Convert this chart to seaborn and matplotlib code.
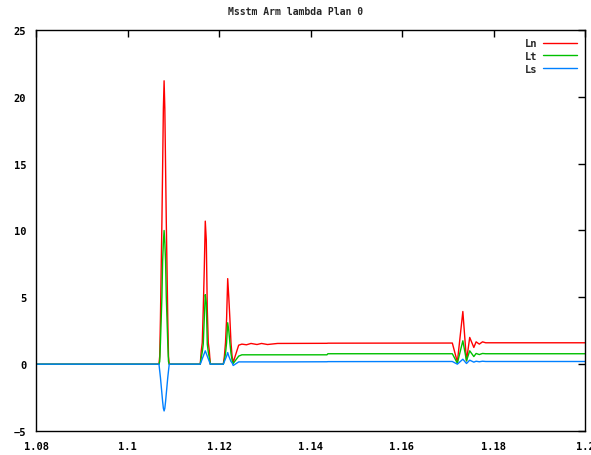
import matplotlib
matplotlib.use("Agg")
import matplotlib.pyplot as plt
import seaborn as sns

# sample positions (shared by the three series)
x_vals = [
    1.0800,
    # first spike
    1.10688, 1.10704, 1.10720, 1.10736, 1.10752, 1.10768, 1.10784, 1.10800,
    1.10816, 1.10832, 1.10848, 1.10864, 1.10880, 1.10896, 1.10912,
    # second spike
    1.11590, 1.11612, 1.11634, 1.11656, 1.11678, 1.11700, 1.11722, 1.11744,
    1.11766, 1.11788, 1.11810,
    # third spike
    1.12094, 1.12118, 1.12142, 1.12166, 1.12190, 1.12214, 1.12238, 1.12262,
    1.12286,
    # settling
    1.1231, 1.1243, 1.1250, 1.1260, 1.1270, 1.1283, 1.1293, 1.1306, 1.1328,
    1.1436, 1.1438, 1.1710,
    # fourth spike
    1.1721, 1.1733, 1.1741, 1.1748, 1.1757, 1.1762, 1.1769, 1.1776, 1.1783,
    1.2000,
]

ln_vals = [
    0.0,
    0.0, 0.6, 3.4, 7.1, 10.6, 14.8, 19.1, 21.2, 19.1, 14.8, 10.6, 7.1, 3.4, 0.6, 0.0,
    0.0, 1.0, 1.6, 4.1, 7.1, 10.7, 9.3, 4.1, 1.6, 1.0, 0.0,
    0.0, 0.6, 1.6, 3.4, 6.4, 5.0, 3.4, 1.6, 0.6,
    0.13, 1.42, 1.50, 1.45, 1.55, 1.47, 1.55, 1.47, 1.55, 1.56, 1.57, 1.58,
    0.15, 3.94, 0.25, 2.0, 1.25, 1.67, 1.5, 1.67, 1.6,
    1.6,
]

lt_vals = [
    0.0,
    0.0, 0.2, 1.6, 3.3, 5.0, 7.7, 9.1, 10.0, 9.1, 7.7, 5.0, 3.3, 1.6, 0.2, 0.0,
    0.0, 0.5, 0.9, 1.5, 3.4, 5.2, 4.6, 1.5, 0.9, 0.5, 0.0,
    0.0, 0.3, 0.8, 1.6, 3.1, 2.5, 1.6, 0.8, 0.3,
    0.05, 0.6, 0.70, 0.70, 0.70, 0.70, 0.70, 0.70, 0.70, 0.70, 0.78, 0.78,
    0.07, 1.75, 0.25, 1.0, 0.57, 0.8, 0.72, 0.8, 0.78,
    0.78,
]

ls_vals = [
    0.0,
    0.0, -0.5, -1.0, -1.6, -2.2, -2.8, -3.3, -3.5, -3.3, -2.8, -2.2, -1.6, -1.0, -0.5, 0.0,
    0.0, 0.2, 0.4, 0.6, 0.8, 1.0, 0.8, 0.6, 0.4, 0.2, 0.0,
    0.0, 0.2, 0.4, 0.6, 0.87, 0.6, 0.4, 0.2, 0.1,
    -0.1, 0.17, 0.17, 0.17, 0.17, 0.17, 0.17, 0.17, 0.17, 0.18, 0.19, 0.2,
    0.0, 0.37, 0.05, 0.3, 0.15, 0.22, 0.18, 0.22, 0.2,
    0.2,
]

x_ticks = [1.08, 1.1, 1.12, 1.14, 1.16, 1.18, 1.2]
x_labels = ["1.08", "1.1", "1.12", "1.14", "1.16", "1.18", "1.2"]
y_ticks = [-5, 0, 5, 10, 15, 20, 25]

sns.set_style("white")
plt.rcParams["font.family"] = ["DejaVu Sans Mono"]
plt.rcParams["font.weight"] = "bold"

fig = plt.figure(figsize=(5.91, 4.56), dpi=100)
ax = fig.add_axes([36 / 591, 1 - 432 / 456, 549 / 591, 401 / 456])

series = [("Ln", ln_vals, "#ff0000"), ("Lt", lt_vals, "#00c000"), ("Ls", ls_vals, "#0080ff")]
for name, vals, col in series:
    sns.lineplot(x=x_vals, y=vals, ax=ax, color=col, linewidth=1.0,
                 label=name, estimator=None, sort=False)

ax.set_xlim(1.08, 1.2)
ax.set_ylim(-5, 25)
ax.set_xticks(x_ticks)
ax.set_xticklabels(x_labels)
ax.set_yticks(y_ticks)
ax.tick_params(direction="in", length=5, width=1, top=True, right=True,
               labelsize=7.5, pad=7, colors="black")
for s in ax.spines.values():
    s.set_visible(True)
    s.set_color("black")
    s.set_linewidth(1.0)

# gnuplot centres the title on the whole canvas
fig.text(0.5, 1 - 12 / 456, "Msstm Arm lambda Plan 0", ha="center", va="center",
         fontsize=7, fontweight="bold")

leg = ax.legend(loc="upper right", frameon=False, markerfirst=False,
                fontsize=7.5, handlelength=3.2, handletextpad=0.6,
                labelspacing=0.25, borderaxespad=0.4)
for t in leg.get_texts():
    t.set_fontweight("bold")

fig.savefig("out.png", dpi=100)
